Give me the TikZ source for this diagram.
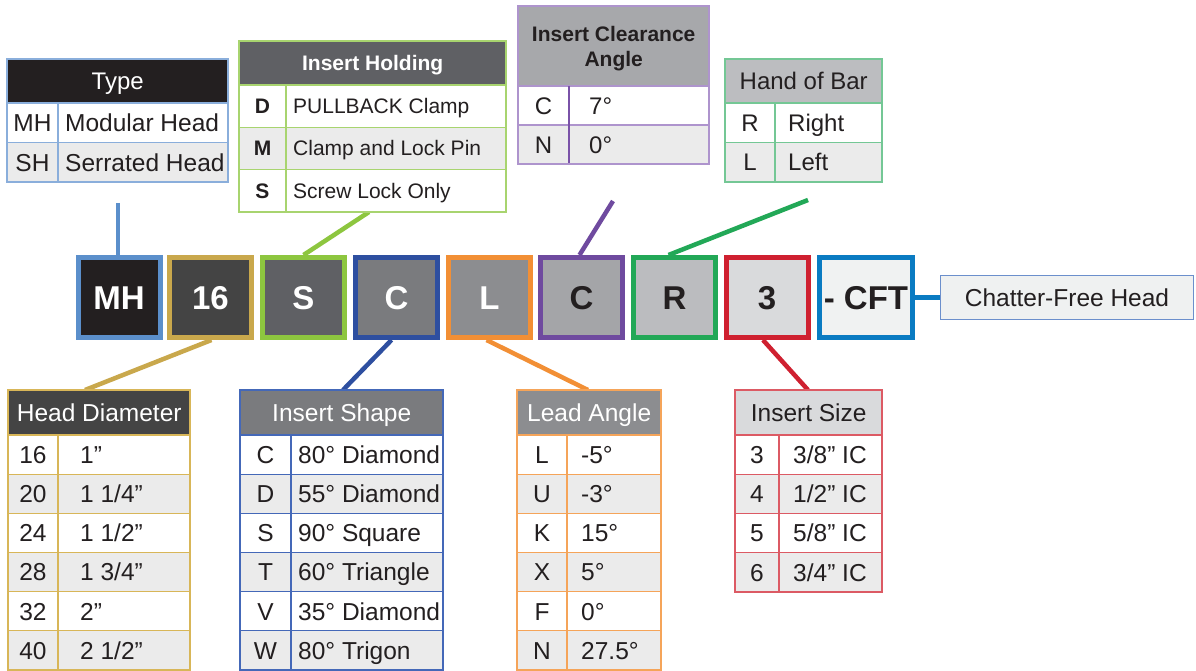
\documentclass[tikz,border=0pt]{standalone}
\usepackage{fontspec}
\setmainfont{Liberation Sans}
\usetikzlibrary{calc}
\definecolor{tx}{HTML}{231F20}
\definecolor{rowgray}{HTML}{EBEBEB}
% code box fills
\definecolor{fMH}{HTML}{231F20}
\definecolor{fSixteen}{HTML}{444444}
\definecolor{fS}{HTML}{5F6064}
\definecolor{fC}{HTML}{7A7B7E}
\definecolor{fL}{HTML}{8C8D90}
\definecolor{fCtwo}{HTML}{A4A5A8}
\definecolor{fR}{HTML}{BBBCBF}
\definecolor{fThree}{HTML}{D9DADC}
\definecolor{fCFT}{HTML}{F0F2F2}
% code box borders
\definecolor{kMH}{HTML}{5B8FCB}
\definecolor{kSixteen}{HTML}{C9A84C}
\definecolor{kS}{HTML}{8DC63F}
\definecolor{kC}{HTML}{2E4FA0}
\definecolor{kL}{HTML}{F28F35}
\definecolor{kCtwo}{HTML}{6F4A9F}
\definecolor{kR}{HTML}{22A857}
\definecolor{kThree}{HTML}{CF2030}
\definecolor{kCFT}{HTML}{0A7BC2}
% table borders
\definecolor{tType}{HTML}{8AAEDB}
\definecolor{tHold}{HTML}{A8D46F}
\definecolor{tClr}{HTML}{AE94CD}
\definecolor{tClrD}{HTML}{7A52A8}
\definecolor{tHand}{HTML}{74C795}
\definecolor{tHead}{HTML}{D8B658}
\definecolor{tShape}{HTML}{4468B8}
\definecolor{tLead}{HTML}{F5A459}
\definecolor{tSize}{HTML}{DC5A64}
\definecolor{tChf}{HTML}{6B8FCC}
% header fills
\definecolor{hType}{HTML}{231F20}
\definecolor{hHold}{HTML}{5F6064}
\definecolor{hClr}{HTML}{A7A8AB}
\definecolor{hHand}{HTML}{BCBDC0}
\definecolor{hHead}{HTML}{444444}
\definecolor{hShape}{HTML}{7A7B7E}
\definecolor{hLead}{HTML}{8C8D90}
\definecolor{hSize}{HTML}{D9DADC}
\definecolor{hChf}{HTML}{EFF1F1}

\newcommand\fsz[1]{\fontsize{#1}{#1}\selectfont}
\def\tcol{tType}
\def\tfont{\fsz{24.5}}
\def\kfont{\fsz{24.5}}
% #1 x0  #2 xd  #3 x1  #4 y of header bottom  #5 row height  #6 value pad  #7 name  #8 baseline offset  #9 rows
\newcommand\tbl[9]{%
\foreach \k/\v [count=\i] in {#9}{%
  \pgfmathsetmacro\ya{#4+(\i-1)*#5}%
  \pgfmathsetmacro\yb{#4+\i*#5}%
  \pgfmathsetmacro\yt{#4+(\i-0.5)*#5+#8}%
  \ifodd\i\relax\def\rf{white}\else\def\rf{rowgray}\fi
  \fill[\rf] (#1,\ya) rectangle (#3,\yb);
  \draw[tline] (#1,\ya) -- (#3,\ya);
  \node[anchor=base, font=\kfont, inner sep=0] (#7k\i) at ({(#1+#2)/2},\yt) {\k};
  \node[anchor=base west, font=\tfont, inner sep=0] (#7v\i) at ({#2+#6},\yt) {\v};
}}

\begin{document}
\begin{tikzpicture}[x=1pt,y=-1pt,
  every node/.style={text=tx},
  tline/.style={draw=\tcol, line width=1.2},
  conn/.style={line width=4.5},
  codebox/.style={minimum width=82, minimum height=80, line width=5, inner sep=0,
    text height=23.6pt, text depth=0pt, font=\fsz{33}\bfseries},
  hdr/.style={anchor=north west, inner sep=0, text depth=0pt}]
\useasboundingbox (0,0) rectangle (1196,671);
\fill[white] (0,0) rectangle (1196,671);

% free ends of connectors
\coordinate (cType) at (118,203);
\coordinate (cHold) at (369,212);
\coordinate (cClr) at (613,201);
\coordinate (cHand) at (808,200);
\coordinate (cHead) at (85,390);
\coordinate (cShape) at (343,390);
\coordinate (cLead) at (588,390);
\coordinate (cSize) at (808,390);

% code boxes
\node[codebox, fill=fMH, draw=kMH, text=white] (bMH) at (119,297.5) {MH};
\node[codebox, fill=fSixteen, draw=kSixteen, text=white] (bSixteen) at (210.5,297.5) {16};
\node[codebox, fill=fS, draw=kS, text=white] (bS) at (303.5,297.5) {S};
\node[codebox, fill=fC, draw=kC, text=white] (bC) at (396.5,297.5) {C};
\node[codebox, fill=fL, draw=kL, text=white] (bL) at (489.5,297.5) {L};
\node[codebox, fill=fCtwo, draw=kCtwo] (bCtwo) at (581.5,297.5) {C};
\node[codebox, fill=fR, draw=kR] (bR) at (674.5,297.5) {R};
\node[codebox, fill=fThree, draw=kThree] (bThree) at (767,297.5) {3};
\node[codebox, fill=fCFT, draw=kCFT, minimum width=93] (bCFT) at (866,297.5) {- CFT};
\node[draw=tChf, fill=hChf, line width=1.2, minimum width=252.8, minimum height=43.8,
  inner sep=0, text height=17.5pt, text depth=0pt, font=\fsz{24.5}] (chf) at (1067,297.5) {Chatter-Free Head};

% connectors
\draw[conn, kMH] (cType) -- ($(bMH.north)+(-1,0)$);
\draw[conn, kS] (cHold) -- (bS.north);
\draw[conn, kCtwo] (cClr) -- ($(bCtwo.north)+(-2,0)$);
\draw[conn, kR] (cHand) -- ($(bR.north)+(-6,0)$);
\draw[conn, kSixteen] ($(bSixteen.south)+(1,0)$) -- (cHead);
\draw[conn, kC] ($(bC.south)+(-5,0)$) -- (cShape);
\draw[conn, kL] ($(bL.south)+(-3,0)$) -- (cLead);
\draw[conn, kThree] ($(bThree.south)+(-4,0)$) -- (cSize);
\draw[conn, kCFT] (bCFT.east) -- (chf.west);

% ---------- Type ----------
\def\tcol{tType}\def\tfont{\fsz{24.5}}\def\kfont{\fsz{24.5}}
\node[hdr, fill=hType, text=white, font=\fsz{24}, text height=17.2pt, minimum width=221, minimum height=44] (typeH) at (7,59) {Type};
\tbl{7}{58}{228}{103}{39.5}{7}{type}{8.8}{MH/Modular Head,SH/Serrated Head}
\draw[tline] (58,103) -- (58,182);
\draw[tline] (7,59) rectangle (228,182);

% ---------- Insert Holding ----------
\def\tcol{tHold}\def\tfont{\fsz{21}}\def\kfont{\fsz{21}\bfseries}
\node[hdr, fill=hHold, text=white, font=\fsz{21}\bfseries, text height=15pt, minimum width=267, minimum height=44] (holdH) at (239,41) {Insert Holding};
\tbl{239}{286}{506}{85}{42.33}{7}{hold}{7.5}{D/PULLBACK Clamp,M/Clamp and Lock Pin,S/Screw Lock Only}
\draw[tline] (286,85) -- (286,212);
\draw[tline] (239,41) rectangle (506,212);

% ---------- Insert Clearance Angle ----------
\def\tcol{tClr}\def\tfont{\fsz{24}}\def\kfont{\fsz{24}}
\node[hdr, fill=hClr, font=\fsz{21}\bfseries, align=center, minimum width=191, minimum height=80] (clrH) at (518,6) {Insert Clearance\\[4pt]Angle};
\tbl{518}{569}{709}{86}{39}{20}{clr}{8.6}{C/7°,N/0°}
\draw[draw=tClrD, line width=1.2] (569,86) -- (569,164);
\draw[tline] (518,6) rectangle (709,164);

% ---------- Hand of Bar ----------
\def\tcol{tHand}\def\tfont{\fsz{24}}\def\kfont{\fsz{24}}
\node[hdr, fill=hHand, font=\fsz{24}, text height=17.2pt, minimum width=157, minimum height=44] (handH) at (725,59) {Hand of Bar};
\tbl{725}{775}{882}{103}{39.5}{13}{hand}{8.6}{R/Right,L/Left}
\draw[tline] (775,103) -- (775,182);
\draw[tline] (725,59) rectangle (882,182);

% ---------- Head Diameter ----------
\def\tcol{tHead}\def\tfont{\fsz{24.5}}\def\kfont{\fsz{24.5}}
\node[hdr, fill=hHead, text=white, font=\fsz{24.5}, text height=17.5pt, minimum width=182, minimum height=45] (headH) at (8,390) {Head Diameter};
\tbl{8}{58}{190}{435}{39.17}{22}{head}{8.8}{16/1”,20/{1 1/4”},24/{1 1/2”},28/{1 3/4”},32/2”,40/{2 1/2”}}
\draw[tline] (58,435) -- (58,670);
\draw[tline] (8,390) rectangle (190,670);

% ---------- Insert Shape ----------
\def\tcol{tShape}\def\tfont{\fsz{24.5}}\def\kfont{\fsz{24.5}}
\node[hdr, fill=hShape, text=white, font=\fsz{24.5}, text height=17.5pt, minimum width=203, minimum height=45] (shapeH) at (240,390) {Insert Shape};
\tbl{240}{291}{443}{435}{39.17}{7}{shape}{8.8}{C/80° Diamond,D/55° Diamond,S/90° Square,T/60° Triangle,V/35° Diamond,W/80° Trigon}
\draw[tline] (291,435) -- (291,670);
\draw[tline] (240,390) rectangle (443,670);

% ---------- Lead Angle ----------
\def\tcol{tLead}\def\tfont{\fsz{24.5}}\def\kfont{\fsz{24.5}}
\node[hdr, fill=hLead, text=white, font=\fsz{24.5}, text height=17.5pt, minimum width=144, minimum height=45] (leadH) at (517,390) {Lead Angle};
\tbl{517}{567}{661}{435}{39.17}{14}{lead}{8.8}{L/-5°,U/-3°,K/15°,X/5°,F/0°,N/27.5°}
\draw[tline] (567,435) -- (567,670);
\draw[tline] (517,390) rectangle (661,670);

% ---------- Insert Size ----------
\def\tcol{tSize}\def\tfont{\fsz{24.5}}\def\kfont{\fsz{24.5}}
\node[hdr, fill=hSize, font=\fsz{24.5}, text height=17.5pt, minimum width=147, minimum height=45] (sizeH) at (735,390) {Insert Size};
\tbl{735}{779}{882}{435}{39.25}{14}{size}{8.8}{3/{3/8” IC},4/{1/2” IC},5/{5/8” IC},6/{3/4” IC}}
\draw[tline] (779,435) -- (779,592);
\draw[tline] (735,390) rectangle (882,592);
\end{tikzpicture}
\end{document}
